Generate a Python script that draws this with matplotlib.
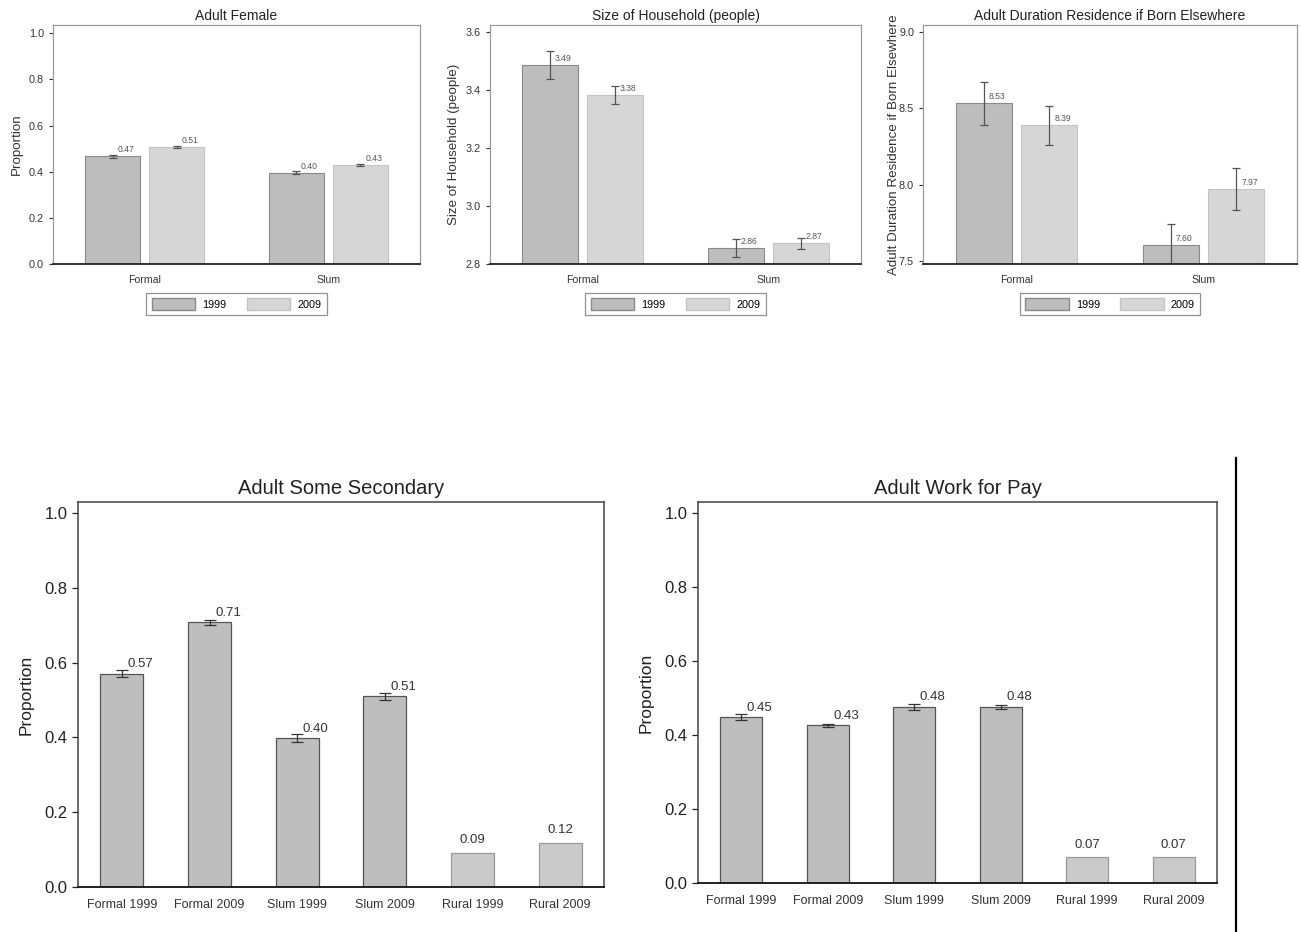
import numpy as np
import matplotlib
matplotlib.use("Agg")
import matplotlib.pyplot as plt
from matplotlib.lines import Line2D
from matplotlib.patches import Patch
from matplotlib.ticker import FormatStrFormatter

plt.rcParams['font.family'] = ['Liberation Sans', 'DejaVu Sans']

# top row: two groups, two years
groups = ['Formal', 'Slum']
years = ['1999', '2009']

female_1999 = [0.466, 0.396]
female_2009 = [0.508, 0.430]
female_err_1999 = [0.008, 0.006]
female_err_2009 = [0.004, 0.004]

hh_1999 = [3.486, 2.856]
hh_2009 = [3.383, 2.872]
hh_err_1999 = [0.048, 0.031]
hh_err_2009 = [0.031, 0.019]

dur_1999 = [8.534, 7.602]
dur_2009 = [8.388, 7.972]
dur_err_1999 = [0.140, 0.140]
dur_err_2009 = [0.130, 0.135]

# bottom row: six categories
categories = ['Formal 1999', 'Formal 2009', 'Slum 1999', 'Slum 2009', 'Rural 1999', 'Rural 2009']
secondary = [0.571, 0.708, 0.398, 0.510, 0.090, 0.119]
secondary_err = [0.009, 0.006, 0.011, 0.009, 0.0, 0.0]
work = [0.448, 0.426, 0.476, 0.476, 0.069, 0.069]
work_err = [0.008, 0.005, 0.008, 0.005, 0.0, 0.0]

C99, E99 = '#bdbdbd', '#8a8a8a'
C09, E09 = '#d6d6d6', '#c4c4c4'
ERR = '#555555'


def top_panel(ax, v99, v09, e99, e09, title, ylabel, ylim, yticks, labelpad=4):
    x = np.arange(len(groups))
    w, off = 0.30, 0.175
    ax.bar(x - off, v99, w, color=C99, edgecolor=E99, linewidth=0.8)
    ax.bar(x + off, v09, w, color=C09, edgecolor=E09, linewidth=0.8)
    ax.errorbar(x - off, v99, yerr=e99, fmt='none', ecolor=ERR, elinewidth=0.9, capsize=2.6, capthick=0.9)
    ax.errorbar(x + off, v09, yerr=e09, fmt='none', ecolor=ERR, elinewidth=0.9, capsize=2.6, capthick=0.9)
    for xs, vals in [(x - off, v99), (x + off, v09)]:
        for xi, v in zip(xs, vals):
            ax.annotate(f'{v:.2f}', (xi, v), xytext=(3.5, 1.5), textcoords='offset points',
                        ha='left', va='bottom', fontsize=6.2, color='#555555')
    ax.set_xlim(-0.5, 1.5)
    ax.set_ylim(*ylim)
    ax.set_yticks(yticks)
    ax.yaxis.set_major_formatter(FormatStrFormatter('%.1f'))
    ax.set_xticks(x)
    ax.set_xticklabels(groups)
    ax.tick_params(axis='x', length=0, labelsize=7.6, colors='#333333', pad=8)
    ax.tick_params(axis='y', length=3, labelsize=7.8, colors='#333333', width=0.8)
    for s in ['top', 'right', 'left']:
        ax.spines[s].set_color('#9a9a9a')
        ax.spines[s].set_linewidth(0.9)
    ax.spines['bottom'].set_color('#222222')
    ax.spines['bottom'].set_linewidth(1.3)
    ax.set_title(title, fontsize=10, color='#222222', pad=4)
    ax.set_ylabel(ylabel, fontsize=9.6, color='#333333', labelpad=labelpad)
    handles = [Patch(facecolor=C99, edgecolor=E99, label=years[0]),
               Patch(facecolor=C09, edgecolor=E09, label=years[1])]
    leg = ax.legend(handles=handles, loc='upper center', bbox_to_anchor=(0.5, -0.12), ncol=2,
                    fontsize=7.8, frameon=True, fancybox=False, edgecolor='#777777',
                    handlelength=4.0, handleheight=1.3, columnspacing=1.9, handletextpad=0.65,
                    borderpad=0.5, borderaxespad=0)
    leg.get_frame().set_linewidth(0.9)


def bottom_panel(ax, vals, errs, title):
    x = np.arange(len(categories))
    faces = ['#bebebe'] * 4 + ['#cacaca'] * 2
    edges = ['#555555'] * 4 + ['#9a9a9a'] * 2
    ax.bar(x, vals, 0.49, color=faces, edgecolor=edges, linewidth=0.9)
    for xi, v, e in zip(x, vals, errs):
        if e > 0:
            ax.errorbar(xi, v, yerr=e, fmt='none', ecolor='#333333', elinewidth=0.9, capsize=4, capthick=0.9)
            ax.annotate(f'{v:.2f}', (xi, v), xytext=(4, 2.5), textcoords='offset points',
                        ha='left', va='bottom', fontsize=9.5, color='#333333')
        else:
            ax.annotate(f'{v:.2f}', (xi, v), xytext=(0, 5), textcoords='offset points',
                        ha='center', va='bottom', fontsize=9.5, color='#333333')
    ax.set_xlim(-0.5, 5.5)
    ax.set_ylim(0, 1.03)
    ax.set_yticks([0, 0.2, 0.4, 0.6, 0.8, 1.0])
    ax.yaxis.set_major_formatter(FormatStrFormatter('%.1f'))
    ax.set_xticks(x)
    ax.set_xticklabels(categories)
    ax.tick_params(axis='x', length=0, labelsize=9, colors='#333333', pad=9)
    ax.tick_params(axis='y', length=4, labelsize=12, colors='#222222', width=0.9)
    for s in ['top', 'right', 'left']:
        ax.spines[s].set_color('#444444')
        ax.spines[s].set_linewidth(1.1)
    ax.spines['bottom'].set_color('#111111')
    ax.spines['bottom'].set_linewidth(1.3)
    ax.set_title(title, fontsize=14.5, color='#222222', pad=6)
    ax.set_ylabel('Proportion', fontsize=12.5, color='#222222', labelpad=8)


fig = plt.figure(figsize=(13.01, 9.32), dpi=100)

ax1 = fig.add_axes([0.0407, 0.7167, 0.2821, 0.2564])
ax2 = fig.add_axes([0.3766, 0.7167, 0.2852, 0.2564])
ax3 = fig.add_axes([0.7095, 0.7167, 0.2875, 0.2564])
ax4 = fig.add_axes([0.0600, 0.0483, 0.4043, 0.4131])
ax5 = fig.add_axes([0.5365, 0.0526, 0.3989, 0.4088])

top_panel(ax1, female_1999, female_2009, female_err_1999, female_err_2009,
          'Adult Female', 'Proportion', (0, 1.035), [0, 0.2, 0.4, 0.6, 0.8, 1.0])
top_panel(ax2, hh_1999, hh_2009, hh_err_1999, hh_err_2009,
          'Size of Household (people)', 'Size of Household (people)', (2.8, 3.624), [2.8, 3.0, 3.2, 3.4, 3.6])
top_panel(ax3, dur_1999, dur_2009, dur_err_1999, dur_err_2009,
          'Adult Duration Residence if Born Elsewhere', 'Adult Duration Residence if Born Elsewhere',
          (7.48, 9.046), [7.5, 8.0, 8.5, 9.0], labelpad=-1)

bottom_panel(ax4, secondary, secondary_err, 'Adult Some Secondary')
bottom_panel(ax5, work, work_err, 'Adult Work for Pay')

# page divider on the right
fig.add_artist(Line2D([0.950, 0.950], [0.0, 0.5086], transform=fig.transFigure, color='black', linewidth=1.6))

fig.savefig('out.png', dpi=100)
